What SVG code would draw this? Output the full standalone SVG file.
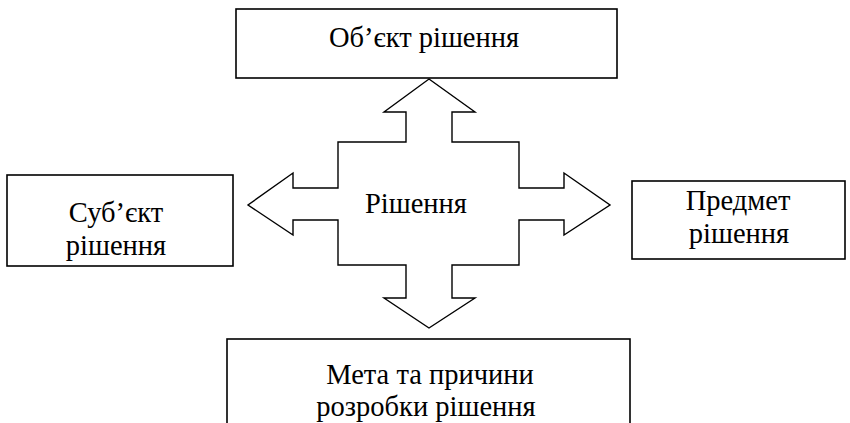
<svg xmlns="http://www.w3.org/2000/svg" width="850" height="423" viewBox="0 0 850 423">
<style>
.box{fill:#fff;stroke:#000;stroke-width:1.6}
.arr{fill:#fff;stroke:#000;stroke-width:1.4;stroke-linejoin:miter}
.t{font-family:"Times New Roman","Liberation Serif",Tinos,"Noto Serif","DejaVu Serif",FreeSerif,serif;font-size:28.5px;fill:#000;text-anchor:middle}
</style>
<rect width="850" height="423" fill="#fff"/>
<g id="connectors">
<path class="arr" d="M429,79 L475,112 L452,112 L452,142 L519,142 L519,188 L564,188 L564,173 L610,205 L564,235 L564,220 L519,220 L519,265 L452,265 L452,298 L475,298 L429,328 L384,298 L406,298 L406,265 L338,265 L338,220 L293,220 L293,235 L248,205 L293,173 L293,188 L338,188 L338,142 L406,142 L406,112 L384,112 Z"/>
</g>
<g id="center">
<text class="t" x="416" y="213">Рішення</text>
</g>
<g id="top">
<rect class="box" x="236" y="9" width="381" height="69"/>
<text class="t" x="424" y="47">Об’єкт рішення</text>
</g>
<g id="left">
<rect class="box" x="7" y="175" width="226" height="91"/>
<text class="t" x="116" y="222">Суб’єкт</text>
<text class="t" x="116" y="255">рішення</text>
</g>
<g id="right">
<rect class="box" x="632" y="181" width="213" height="78"/>
<text class="t" x="738" y="210">Предмет</text>
<text class="t" x="739" y="243">рішення</text>
</g>
<g id="bottom">
<rect class="box" x="227" y="339" width="403" height="100"/>
<text class="t" x="430" y="384">Мета та причини</text>
<text class="t" x="426" y="416">розробки рішення</text>
</g>
</svg>
